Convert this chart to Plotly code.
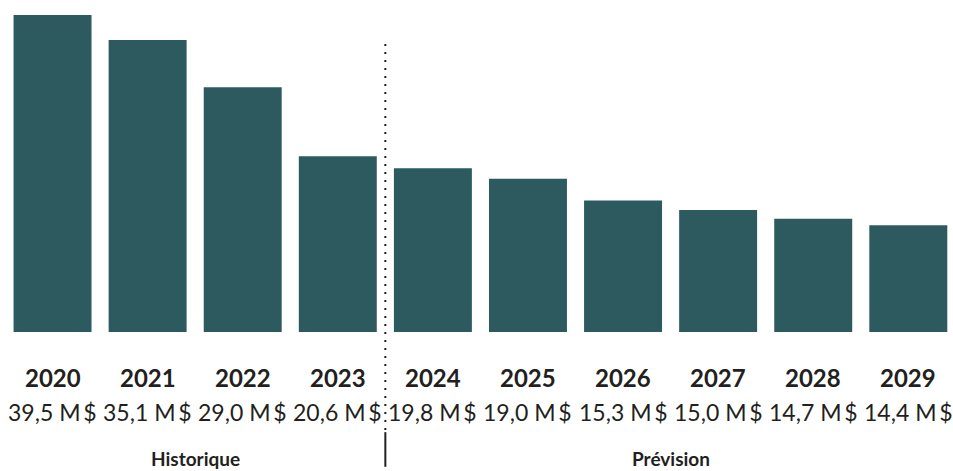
import plotly.graph_objects as go

years = ["2020", "2021", "2022", "2023", "2024", "2025", "2026", "2027", "2028", "2029"]
# values printed under each bar (M$)
label_values = [39.5, 35.1, 29.0, 20.6, 19.8, 19.0, 15.3, 15.0, 14.7, 14.4]
# bar heights as drawn in the picture (M$ scale)
bar_heights = [39.5, 36.4, 30.5, 21.9, 20.4, 19.1, 16.4, 15.2, 14.1, 13.3]
group_labels = ["Historique", "Prévision"]
group_spans = [(0, 3), (4, 9)]
split_position = 3.5

BAR_COLOR = "#2c5a5e"
TEXT_COLOR = "#231f20"
FONT = "Lato"

fig = go.Figure(go.Bar(
    x=years, y=bar_heights, marker_color=BAR_COLOR, marker_line_width=0,
    hoverinfo="skip",
))

def fmt(v):
    return f"{v:.1f}".replace(".", ",") + " M\u2009$"

ann = []
for i, (yr, v) in enumerate(zip(years, label_values)):
    ann.append(dict(x=i, y=-0.143, xref="x", yref="paper", text=f"<b>{yr}</b>",
                    showarrow=False, yanchor="middle", xanchor="center",
                    font=dict(family=FONT, size=24, color=TEXT_COLOR, weight=900)))
    ann.append(dict(x=i, y=-0.25, xref="x", yref="paper", text=fmt(v),
                    showarrow=False, yanchor="middle", xanchor="center",
                    font=dict(family=FONT, size=23, color=TEXT_COLOR)))
for lab, (a, b) in zip(group_labels, group_spans):
    ann.append(dict(x=(a + b) / 2, y=-0.393, xref="x", yref="paper", text=f"<b>{lab}</b>",
                    showarrow=False, yanchor="middle", xanchor="center",
                    font=dict(family=FONT, size=19, color=TEXT_COLOR)))

shapes = [
    dict(type="line", xref="x", yref="paper", x0=split_position, x1=split_position,
         y0=-0.305, y1=0.9, line=dict(color=TEXT_COLOR, width=2, dash="2px,6px")),
    dict(type="line", xref="x", yref="paper", x0=split_position, x1=split_position,
         y0=-0.42, y1=-0.312, line=dict(color=TEXT_COLOR, width=2)),
]

fig.update_layout(
    width=953, height=471,
    margin=dict(l=5, r=0, t=11, b=139),
    paper_bgcolor="white", plot_bgcolor="white",
    bargap=0.18,
    showlegend=False,
    xaxis=dict(visible=False, type="category", range=[-0.5, 9.47]),
    yaxis=dict(visible=False, range=[0, 40]),
    annotations=ann,
    shapes=shapes,
)

fig.write_html("out.html", config={"displayModeBar": False},
               post_script="document.body.style.margin='0';document.body.style.overflow='hidden';")
